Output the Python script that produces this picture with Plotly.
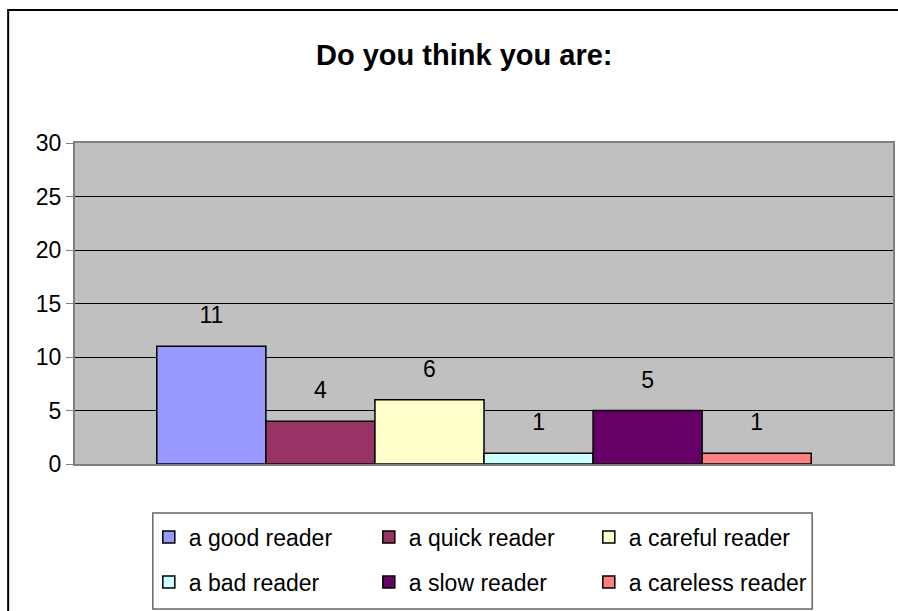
import plotly.graph_objects as go

# Survey answers: "Do you think you are:"
answers = ["a good reader", "a quick reader", "a careful reader",
           "a bad reader", "a slow reader", "a careless reader"]
counts = [11, 4, 6, 1, 5, 1]
fill_colors = ["#9999FF", "#993366", "#FFFFCC", "#CCFFFF", "#660066", "#FF8080"]
group_label = ["Responses"]
y_ticks = [0, 5, 10, 15, 20, 25, 30]

FONT = "Liberation Sans, Arial, sans-serif"

fig = go.Figure()

for i, (name, val, col) in enumerate(zip(answers, counts, fill_colors)):
    fig.add_trace(go.Bar(
        x=group_label, y=[val], name=name,
        marker=dict(color=col, line=dict(color="black", width=1.5)),
        offsetgroup=name,
        legend="legend" if i < 3 else "legend2",
        hoverinfo="skip",
    ))

# value labels floating above each bar
for name, val in zip(answers, counts):
    fig.add_trace(go.Scatter(
        x=group_label, y=[val], mode="markers+text",
        text=[str(val)], textposition="top center",
        textfont=dict(family=FONT, size=23, color="black"),
        marker=dict(size=26, color="rgba(0,0,0,0)"),
        offsetgroup=name, showlegend=False, hoverinfo="skip",
        cliponaxis=False,
    ))

legend_common = dict(
    orientation="h", xanchor="left", yanchor="middle",
    font=dict(family=FONT, size=23, color="black"),
    bgcolor="rgba(0,0,0,0)", borderwidth=0,
    entrywidth=175, entrywidthmode="pixels",
    itemclick=False, itemdoubleclick=False,
)

fig.update_layout(
    width=898, height=611,
    margin=dict(l=75, r=3, t=143, b=147),
    paper_bgcolor="white",
    plot_bgcolor="#C0C0C0",
    barmode="group", bargap=0.2, bargroupgap=0,
    scattermode="group", scattergap=0.2,
    title=dict(
        text="<b>Do you think you are:</b>",
        font=dict(family=FONT, size=29, color="black"),
        xref="container", x=0.517, xanchor="center",
        yref="container", y=1 - 55 / 611, yanchor="middle",
    ),
    xaxis=dict(
        range=[-0.5, 0.5], showticklabels=False, ticks="",
        showgrid=False, zeroline=False,
        showline=True, linecolor="#808080", linewidth=2, mirror=True,
    ),
    yaxis=dict(
        range=[0, 30], tickvals=y_ticks,
        tickfont=dict(family=FONT, size=23, color="black"),
        ticks="outside", ticklen=7, tickcolor="#808080", tickwidth=1,
        showgrid=True, gridcolor="black", gridwidth=1,
        zeroline=False,
        showline=True, linecolor="#808080", linewidth=2, mirror=True,
    ),
    legend=dict(legend_common, x=(149 - 75) / 820, y=(464 - 537) / 321),
    legend2=dict(legend_common, x=(149 - 75) / 820, y=(464 - 582) / 321),
    showlegend=True,
    shapes=[
        # chart frame
        dict(type="rect", xref="paper", yref="paper",
             x0=(8 - 75) / 820, x1=(910 - 75) / 820,
             y0=(464 - 10) / 321, y1=(464 - 630) / 321,
             line=dict(color="black", width=2), layer="below"),
        # legend frame
        dict(type="rect", xref="paper", yref="paper",
             x0=(153 - 75) / 820, x1=(814 - 75) / 820,
             y0=(464 - 513) / 321, y1=(464 - 609) / 321,
             line=dict(color="#666666", width=1.5), fillcolor="white",
             layer="below"),
    ],
)

fig.write_html("out.html")
